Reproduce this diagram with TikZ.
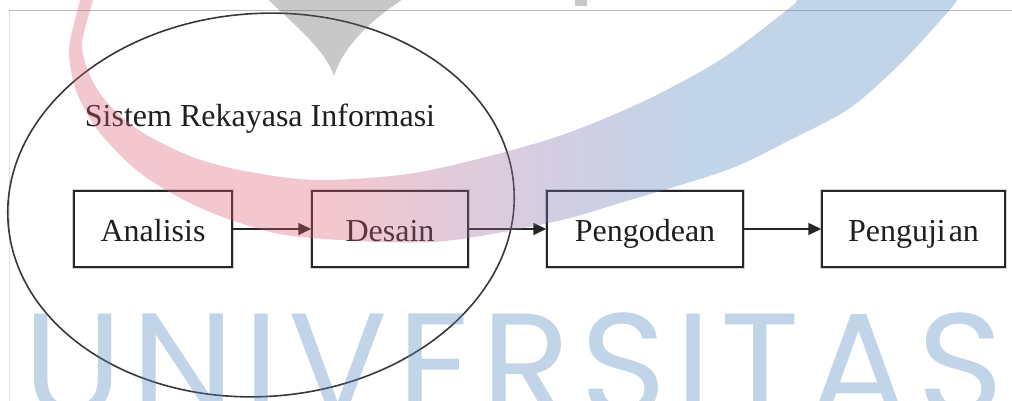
\documentclass[tikz,border=0pt]{standalone}
\usepackage{fontspec}
\setmainfont{Liberation Serif}
\newfontfamily\wmfont{Poppins}
\usetikzlibrary{shapes.geometric,arrows.meta}
\definecolor{swpink}{RGB}{221,95,118}
\definecolor{swlav}{RGB}{135,112,169}
\definecolor{swblue}{RGB}{78,132,189}
\definecolor{wmgrey}{RGB}{98,98,98}
\definecolor{framegrey}{RGB}{185,185,185}
\definecolor{framegreylight}{RGB}{225,225,225}
\pgfdeclarehorizontalshading{swoosh}{100bp}{color(0bp)=(swpink); color(40bp)=(swpink); color(51bp)=(swlav); color(60bp)=(swblue); color(100bp)=(swblue)}
\begin{document}
\begin{tikzpicture}[x=1pt,y=-1pt,
  stepbox/.style={draw=black!85, line width=1.5pt, fill=white, minimum height=76pt,
    inner sep=0pt, text height=25pt, text depth=0pt,
    font=\fontsize{32}{38}\selectfont, text=black!88,
    preaction={draw=black!18, line width=4.5pt}},
  flow/.style={draw=black!85, line width=1.6pt, -{Triangle[length=13pt,width=12pt]}},
  ring/.style={draw=black!78, line width=1.6pt, ellipse, inner sep=0pt},
  wm/.style={opacity=0.35}
]
\useasboundingbox (0,0) rectangle (1012,401);
% frame lines
\draw[framegrey, line width=1pt] (9,11) -- (1012,11);
\draw[framegreylight, line width=1pt] (9,11) -- (9,401);
% ellipse and its title
\node[ring, minimum width=507pt, minimum height=383pt, rotate=4] (sri) at (261,205) {};
\node[font=\fontsize{32}{38}\selectfont, text=black!88, anchor=base, inner sep=0pt] (title) at (260,127) {Sistem Rekayasa Informasi};
% boxes
\node[stepbox, minimum width=158pt] (analisis) at (153,229) {Analisis};
\node[stepbox, minimum width=156pt] (desain) at (390,229) {Desain};
\node[stepbox, minimum width=196pt] (pengodean) at (645,229) {Pengodean};
\node[stepbox, minimum width=183pt] (pengujian) at (913.5,229) {Penguji\kern3pt an};
% arrows
\draw[flow] (analisis) -- (desain);
\draw[flow] (desain) -- (pengodean);
\draw[flow] (pengodean) -- (pengujian);
% watermark
\begin{scope}
\clip (0,0) rectangle (1012,401);
\shade[shading=swoosh, wm]
  plot[smooth, tension=0.5] coordinates {(84,-20) (80,0) (69,50) (77,93) (100,133) (140,173) (190,203) (240,223) (300,237) (433,242) (553,222) (620,203) (727,170) (790,140) (850,108) (902,62) (947,13) (957,0) (965,-15)}
  -- plot[smooth, tension=0.5] coordinates {(803,-15) (797,0) (787,10) (720,60) (640,103) (547,140) (420,172) (320,180) (250,172) (195,158) (145,134) (112,108) (92,80) (82,45) (93,0) (97,-20)}
  -- cycle;
\fill[wmgrey, wm] (260,-8) .. controls (300,30) and (325,50) .. (334,76) .. controls (344,45) and (372,18) .. (414,-8) -- cycle;
\fill[wmgrey, wm] (575,-2) rectangle (587,6);
\node[anchor=base west, inner sep=0pt, font=\wmfont\fontsize{147}{150}\selectfont, text=swblue, wm] (univ) at (23,416) {U\kern9pt N\kern9pt I\kern9pt V\kern9pt E\kern9pt R\kern9pt S\kern9pt I\kern9pt T\kern9pt A\kern9pt S};
\end{scope}
\end{tikzpicture}
\end{document}
